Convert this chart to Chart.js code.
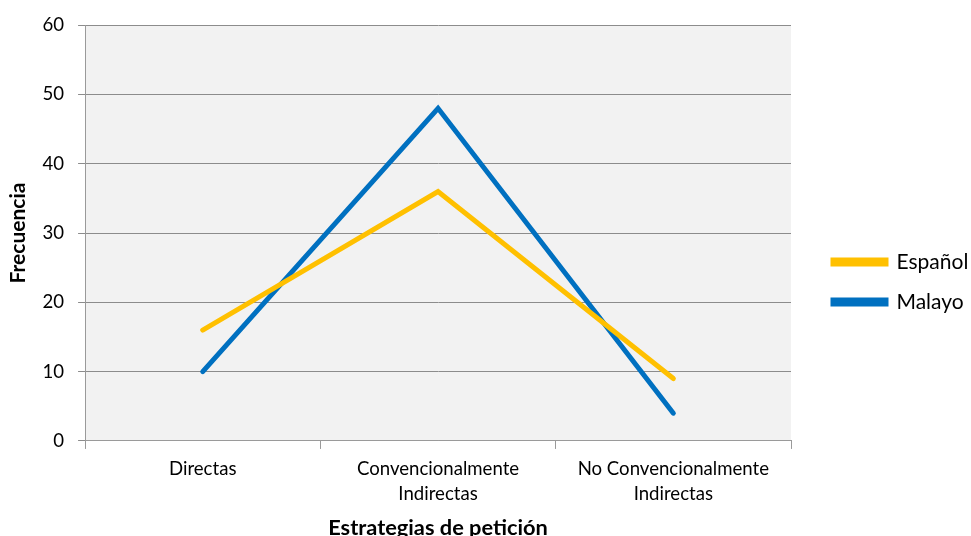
<!DOCTYPE html>
<html>
<head>
<meta charset="utf-8">
<script src="https://cdn.jsdelivr.net/npm/chart.js@4"></script>
<style>
  html, body { margin: 0; padding: 0; background: #ffffff; overflow: hidden; }
  #wrap { width: 971px; height: 550px; position: relative; }
</style>
</head>
<body>
<div id="wrap"><canvas id="c"></canvas></div>
<script>
// Categorías del eje X (estrategias de petición)
const categorias = ['Directas', ['Convencionalmente', 'Indirectas'], ['No Convencionalmente', 'Indirectas']];
// Frecuencias por lengua
const espanol = [16, 36, 9];
const malayo = [10, 48, 4];
const nombresSeries = ['Español', 'Malayo'];
const coloresSeries = ['#FFC000', '#0070C0'];

const fuente = 'Lato, "Open Sans", sans-serif';

// Fondo gris del área de trazado
const fondoArea = {
  id: 'fondoArea',
  beforeDraw(chart) {
    const { ctx, chartArea: a } = chart;
    ctx.save();
    ctx.fillStyle = '#f2f2f2';
    ctx.fillRect(a.left, a.top, a.right - a.left, a.bottom - a.top);
    ctx.restore();
  }
};

// Leyenda a la derecha: reserva una franja fija y desplaza su contenido
const anchoLeyenda = 180;
const inicioLeyenda = 833;
const leyendaFija = {
  id: 'leyendaFija',
  beforeLayout(chart) {
    const lg = chart.legend;
    if (lg && !lg._anchoFijo) {
      const fitOriginal = lg.fit.bind(lg);
      lg.fit = function () {
        fitOriginal();
        this.width = anchoLeyenda;
      };
      lg._anchoFijo = true;
    }
  },
  afterLayout(chart) {
    const lg = chart.legend;
    if (lg) {
      const pad = lg.options.labels.padding;
      lg.left = inicioLeyenda - pad;
    }
  }
};

new Chart(document.getElementById('c'), {
  type: 'line',
  data: {
    labels: categorias,
    datasets: [espanol, malayo].map((d, i) => ({
      label: nombresSeries[i],
      data: d,
      borderColor: coloresSeries[i],
      backgroundColor: coloresSeries[i],
      borderWidth: 5,
      borderCapStyle: 'round',
      borderJoinStyle: 'miter',
      pointRadius: 0,
      tension: 0,
      fill: false
    }))
  },
  options: {
    responsive: true,
    maintainAspectRatio: false,
    animation: false,
    layout: { padding: { top: 14, right: 0, left: 7.5, bottom: 0 } },
    plugins: {
      legend: {
        position: 'right',
        labels: {
          boxWidth: 53,
          boxHeight: 4,
          padding: 19,
          color: '#000',
          font: { family: fuente, size: 21 }
        }
      },
      tooltip: { enabled: false }
    },
    scales: {
      x: {
        offset: true,
        grid: {
          offset: true,
          drawOnChartArea: false,
          drawTicks: true,
          tickLength: 8,
          color: '#9a9a9a'
        },
        border: { color: '#9a9a9a', width: 1 },
        ticks: {
          color: '#000',
          maxRotation: 0,
          autoSkip: false,
          padding: 7.5,
          font: { family: fuente, size: 18.6, lineHeight: 25 / 18.6 }
        },
        title: {
          display: true,
          text: 'Estrategias de petición',
          color: '#000',
          padding: { top: 1, bottom: 8.9 },
          font: { family: fuente, size: 21.8, weight: 'bold' }
        }
      },
      y: {
        min: 0,
        max: 60,
        ticks: {
          stepSize: 10,
          color: '#000',
          padding: 14,
          font: { family: fuente, size: 18.6 }
        },
        grid: {
          color: '#8c8c8c',
          lineWidth: 1,
          tickLength: 7
        },
        border: { color: '#9a9a9a', width: 1 },
        title: {
          display: true,
          text: 'Frecuencia',
          color: '#000',
          padding: { top: 0, bottom: 0 },
          font: { family: fuente, size: 21, weight: 'bold', lineHeight: 1 }
        }
      }
    }
  },
  plugins: [fondoArea, leyendaFija]
});
</script>
</body>
</html>
